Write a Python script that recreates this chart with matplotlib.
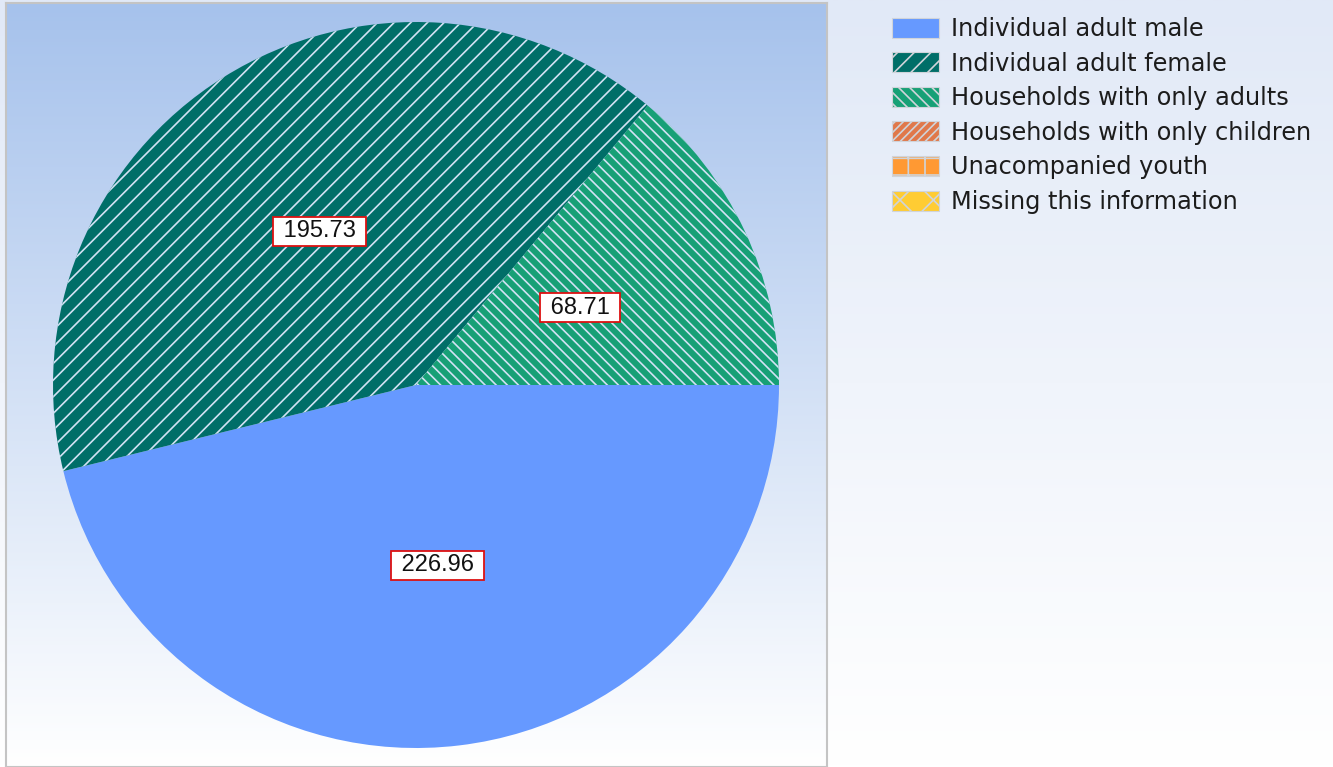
import numpy as np
import matplotlib
matplotlib.use("Agg")
import matplotlib.pyplot as plt
from matplotlib.colors import LinearSegmentedColormap

# data
categories = ["Individual adult male", "Individual adult female",
              "Households with only adults", "Households with only children",
              "Unacompanied youth", "Missing this information"]
values = [226.96, 195.73, 68.71, 0, 0, 0]

colors = ["#6699ff", "#006e68", "#17a076", "#e0784a", "#ff9933", "#ffcc33"]
hatches = ["", "//", "\\\\\\", "////", "+", "x"]

plt.rcParams["hatch.color"] = "#d2e2f4"
plt.rcParams["hatch.linewidth"] = 1.2

W, H = 1333, 767
fig = plt.figure(figsize=(W / 100, H / 100), dpi=100)

# whole-figure background (legend side)
bg = fig.add_axes([0, 0, 1, 1], zorder=-3)
grad = np.linspace(0, 1, 256).reshape(-1, 1)
bg.imshow(grad, aspect="auto", extent=[0, 1, 0, 1],
          cmap=LinearSegmentedColormap.from_list("bg", ["#e1e9f7", "#ffffff"]))
bg.axis("off")

# chart panel with gradient
panel = fig.add_axes([6 / W, 0, 821 / W, 764 / H], zorder=-2)
panel.imshow(grad, aspect="auto", extent=[0, 1, 0, 1],
             cmap=LinearSegmentedColormap.from_list("pn", ["#a6c2ec", "#ffffff"]))
panel.set_xticks([])
panel.set_yticks([])
for s in panel.spines.values():
    s.set_color("#c4c4c4")
    s.set_linewidth(1.5)

# pie
cx, cy, r = 416, 385, 363
ax = fig.add_axes([(cx - r) / W, (H - cy - r) / H, 2 * r / W, 2 * r / H])
ax.patch.set_alpha(0)
wedges, _ = ax.pie(values, colors=colors, startangle=0, counterclock=False,
                   wedgeprops=dict(linewidth=0))
for w, h in zip(wedges, hatches):
    w.set_hatch(h)
ax.set_xlim(-1, 1)
ax.set_ylim(-1, 1)
ax.set_aspect("equal")

for w, v in zip(wedges, values):
    if v <= 0:
        continue
    ang = np.deg2rad((w.theta1 + w.theta2) / 2)
    ax.text(0.5 * np.cos(ang), 0.5 * np.sin(ang), f" {v:.2f} ",
            ha="center", va="center", fontsize=17,
            family=["Liberation Sans", "DejaVu Sans"], color="#111111",
            bbox=dict(boxstyle="square,pad=0.15", fc="white", ec="#dd1111", lw=1.3))

leg = fig.legend(wedges, categories, loc="upper left",
                 bbox_to_anchor=(892 / W, 1 - 17 / H), frameon=False,
                 fontsize=17.3, handlelength=1.95, handleheight=0.9,
                 handletextpad=0.5, labelspacing=0.44, borderpad=0,
                 borderaxespad=0)
for t in leg.get_texts():
    t.set_color("#1c1c1c")
for p in leg.get_patches():
    p.set_edgecolor("#d0d4da")
    p.set_linewidth(0.8)

fig.savefig("out.png", dpi=100)
